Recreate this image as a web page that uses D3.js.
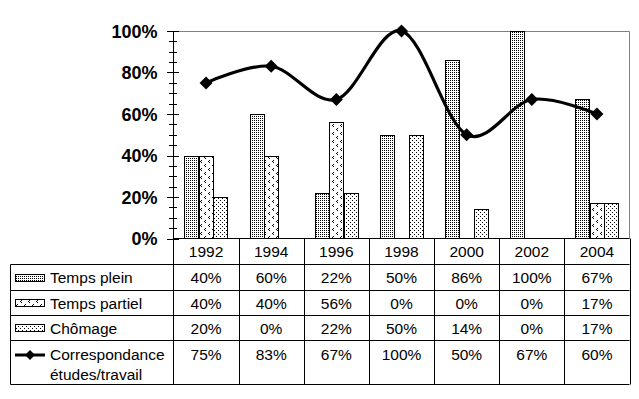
<!DOCTYPE html>
<html><head><meta charset="utf-8">
<script src="https://cdn.jsdelivr.net/npm/d3@7"></script>
<style>body{margin:0;background:#fff}svg{display:block}</style>
</head><body>
<script>
const years = ["1992","1994","1996","1998","2000","2002","2004"];
const tempsPlein = [40,60,22,50,86,100,67];
const tempsPartiel = [40,40,56,0,0,0,17];
const chomage = [20,0,22,50,14,0,17];
const correspondance = [75,83,67,100,50,67,60];
const yTicks = [0,20,40,60,80,100];
const seriesNames = ["Temps plein","Temps partiel","Chômage"];

const W=639,H=399;
const svg=d3.select("body").append("svg").attr("width",W).attr("height",H);
const font="'Liberation Sans', Arial, sans-serif";

// patterns
const defs=svg.append("defs");
function pat(id,size,pts){
  const p=defs.append("pattern").attr("id",id).attr("patternUnits","userSpaceOnUse")
    .attr("width",size).attr("height",size);
  p.append("rect").attr("width",size).attr("height",size).attr("fill","#fff");
  pts.forEach(([x,y])=>p.append("rect").attr("x",x).attr("y",y).attr("width",1).attr("height",1).attr("fill","#000").attr("shape-rendering","crispEdges"));
}
pat("pPlein",2,[[0,0]]);
pat("pPartiel",8,[[1,0],[0,1],[1,2],[5,4],[4,5],[5,6]]);
pat("pChom",4,[[0,0],[2,2]]);
const fills=["url(#pPlein)","url(#pPartiel)","url(#pChom)"];
const seriesData=[tempsPlein,tempsPartiel,chomage];

const x0=173.5,x1=629.5,yTop=31,yBot=238.5;
const x=d3.scaleBand().domain(years).range([x0,x1]).paddingInner(0).paddingOuter(0);
const y=d3.scaleLinear().domain([0,100]).range([yBot,yTop]);
const bw=x.bandwidth()/4.5;

// plot border (gray)
svg.append("path").attr("d",`M${x0},${yTop+0.5}H${x1}V${yBot}`).attr("fill","none").attr("stroke","#808080");

// bars
seriesData.forEach((arr,si)=>{
  svg.append("g").selectAll("rect").data(arr.map((v,i)=>({v,i})).filter(d=>d.v>0)).join("rect")
    .attr("x",d=>Math.round(x(years[d.i])+bw*0.75+si*bw)+0.5)
    .attr("y",d=>Math.round(y(d.v))+0.5)
    .attr("width",Math.round(bw))
    .attr("height",d=>yBot-Math.round(y(d.v))-0.5)
    .attr("fill",fills[si]).attr("stroke","#000").attr("stroke-width",1);
});

// y axis
const minor=d3.range(0,101,5);
svg.append("g").selectAll("line").data(minor).join("line")
  .attr("x1",d=>d%20===0?167:169).attr("x2",d=>d%20===0?179:177)
  .attr("y1",d=>Math.round(y(d))+0.5).attr("y2",d=>Math.round(y(d))+0.5)
  .attr("stroke","#000").attr("stroke-width",1);
svg.append("line").attr("x1",x0).attr("x2",x0).attr("y1",yTop).attr("y2",384.5).attr("stroke","#000");
svg.append("g").selectAll("text").data(yTicks).join("text")
  .attr("x",157.5).attr("y",d=>y(d)+6.5).attr("text-anchor","end")
  .attr("font-family",font).attr("font-weight","bold").attr("font-size",18)
  .text(d=>d+"%");

// line
const cx=i=>x(years[i])+x.bandwidth()/2;
const line=d3.line().x((d,i)=>cx(i)).y(d=>y(d)).curve(d3.curveCatmullRom.alpha(0));
svg.append("path").datum(correspondance).attr("d",line).attr("fill","none").attr("stroke","#000").attr("stroke-width",3.2);
const diamond="M0,-6.5L6.5,0L0,6.5L-6.5,0Z";
svg.append("g").selectAll("path").data(correspondance).join("path")
  .attr("d",diamond).attr("transform",(d,i)=>`translate(${cx(i)},${y(d)})`).attr("fill","#000");

// table
const rowsY=[238.5,264.5,290.5,315.5,340.5,384.5];
const T=svg.append("g").attr("stroke","#000").attr("stroke-width",1);
T.append("line").attr("x1",x0).attr("x2",x1).attr("y1",rowsY[0]).attr("y2",rowsY[0]);
rowsY.slice(1).forEach(r=>T.append("line").attr("x1",10.5).attr("x2",x1).attr("y1",r).attr("y2",r));
T.append("line").attr("x1",10.5).attr("x2",10.5).attr("y1",rowsY[1]).attr("y2",rowsY[5]);
years.forEach((yr,i)=>{
  const xr=x(yr)+x.bandwidth();
  T.append("line").attr("x1",Math.round(xr)+0.5).attr("x2",Math.round(xr)+0.5).attr("y1",rowsY[0]).attr("y2",rowsY[5]);
});
const tf=15.5;
const tg=svg.append("g").attr("font-family",font).attr("font-size",tf).attr("fill","#000");
tg.selectAll("text.yr").data(years).join("text").attr("class","yr")
  .attr("x",d=>x(d)+x.bandwidth()/2).attr("y",257).attr("text-anchor","middle").text(d=>d);
const rowMid=[277.5,303,328,354];
const allRows=[tempsPlein,tempsPartiel,chomage,correspondance];
allRows.forEach((arr,ri)=>{
  tg.append("g").selectAll("text").data(arr).join("text")
    .attr("x",(d,i)=>cx(i)).attr("y",rowMid[ri]+5.5).attr("text-anchor","middle").text(d=>d+"%");
});
// legend labels
seriesNames.forEach((n,si)=>{
  tg.append("text").attr("x",50).attr("y",rowMid[si]+5.5).text(n);
  svg.append("rect").attr("x",15.5).attr("y",Math.round(rowMid[si]-4)+0.5).attr("width",29).attr("height",7)
    .attr("fill",fills[si]).attr("stroke","#000");
});
tg.append("text").attr("x",50).attr("y",354+5.5).text("Correspondance");
tg.append("text").attr("x",50).attr("y",374+5.5).text("études/travail");
svg.append("line").attr("x1",15).attr("x2",45).attr("y1",355).attr("y2",355).attr("stroke","#000").attr("stroke-width",3);
svg.append("path").attr("d","M0,-5L5,0L0,5L-5,0Z").attr("transform","translate(30,355)").attr("fill","#000");
</script>
</body></html>
